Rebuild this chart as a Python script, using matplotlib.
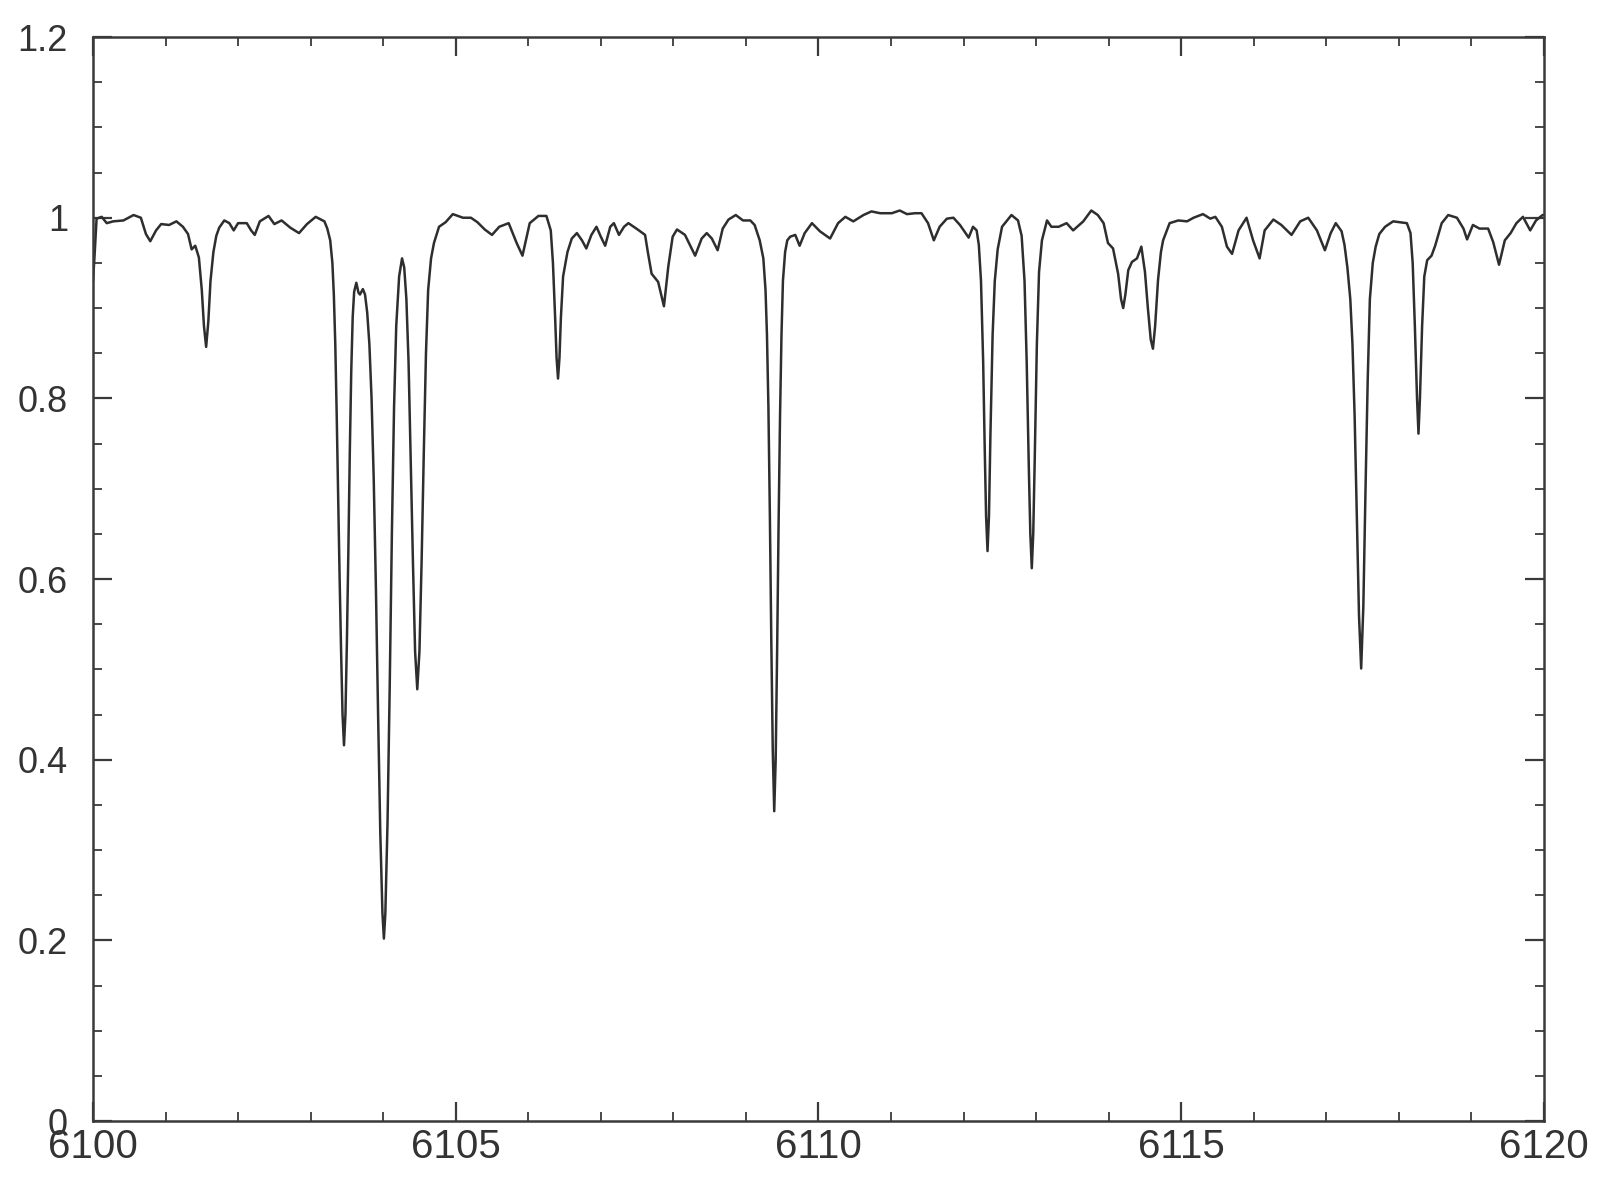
import matplotlib
matplotlib.use('Agg')
import matplotlib.pyplot as plt
from matplotlib.ticker import MultipleLocator, FormatStrFormatter, FuncFormatter

# spectrum (wavelength in Angstrom, normalised flux)
wave = [
    6100.00, 6100.02, 6100.05, 6100.12, 6100.19, 6100.28, 6100.42, 6100.56, 6100.66, 6100.73,
    6100.79, 6100.87, 6100.94, 6101.05, 6101.15, 6101.24, 6101.31, 6101.36, 6101.41, 6101.46,
    6101.50, 6101.53, 6101.56, 6101.59, 6101.62, 6101.66, 6101.70, 6101.74, 6101.81, 6101.88,
    6101.94, 6102.00, 6102.12, 6102.18, 6102.23, 6102.30, 6102.42, 6102.50, 6102.60, 6102.72,
    6102.84, 6102.95, 6103.07, 6103.19, 6103.23, 6103.27, 6103.30, 6103.32, 6103.34, 6103.36,
    6103.38, 6103.40, 6103.42, 6103.44, 6103.46, 6103.48, 6103.50, 6103.52, 6103.54, 6103.56,
    6103.58, 6103.60, 6103.63, 6103.66, 6103.68, 6103.72, 6103.75, 6103.78, 6103.81, 6103.84,
    6103.87, 6103.90, 6103.93, 6103.96, 6103.99, 6104.01, 6104.03, 6104.06, 6104.09, 6104.12,
    6104.15, 6104.18, 6104.22, 6104.26, 6104.29, 6104.32, 6104.35, 6104.38, 6104.41, 6104.44,
    6104.47, 6104.50, 6104.53, 6104.56, 6104.59, 6104.62, 6104.66, 6104.70, 6104.77, 6104.86,
    6104.96, 6105.10, 6105.21, 6105.30, 6105.40, 6105.50, 6105.60, 6105.73, 6105.84, 6105.92,
    6106.02, 6106.14, 6106.25, 6106.31, 6106.34, 6106.37, 6106.39, 6106.41, 6106.43, 6106.45,
    6106.48, 6106.54, 6106.60, 6106.67, 6106.74, 6106.80, 6106.87, 6106.94, 6107.00, 6107.06,
    6107.13, 6107.18, 6107.25, 6107.32, 6107.38, 6107.49, 6107.61, 6107.65, 6107.70, 6107.79,
    6107.87, 6107.93, 6107.99, 6108.05, 6108.16, 6108.30, 6108.39, 6108.46, 6108.53, 6108.61,
    6108.68, 6108.76, 6108.86, 6108.96, 6109.06, 6109.12, 6109.19, 6109.24, 6109.27, 6109.29,
    6109.31, 6109.33, 6109.35, 6109.37, 6109.39, 6109.41, 6109.43, 6109.45, 6109.47, 6109.49,
    6109.51, 6109.54, 6109.57, 6109.61, 6109.68, 6109.74, 6109.81, 6109.91, 6110.02, 6110.16,
    6110.27, 6110.37, 6110.48, 6110.62, 6110.73, 6110.85, 6111.01, 6111.12, 6111.22, 6111.33,
    6111.42, 6111.51, 6111.59, 6111.67, 6111.77, 6111.86, 6111.95, 6112.07, 6112.13, 6112.18,
    6112.21, 6112.24, 6112.27, 6112.29, 6112.31, 6112.33, 6112.35, 6112.37, 6112.40, 6112.43,
    6112.47, 6112.53, 6112.66, 6112.75, 6112.80, 6112.84, 6112.87, 6112.90, 6112.92, 6112.94,
    6112.96, 6112.98, 6113.01, 6113.04, 6113.08, 6113.15, 6113.21, 6113.31, 6113.42, 6113.51,
    6113.65, 6113.76, 6113.85, 6113.93, 6113.99, 6114.06, 6114.13, 6114.17, 6114.20, 6114.23,
    6114.27, 6114.32, 6114.39, 6114.45, 6114.50, 6114.54, 6114.58, 6114.61, 6114.64, 6114.68,
    6114.72, 6114.75, 6114.84, 6114.96, 6115.08, 6115.17, 6115.30, 6115.40, 6115.47, 6115.56,
    6115.63, 6115.70, 6115.79, 6115.90, 6115.99, 6116.08, 6116.15, 6116.27, 6116.38, 6116.52,
    6116.64, 6116.75, 6116.87, 6116.98, 6117.06, 6117.13, 6117.21, 6117.25, 6117.29, 6117.33,
    6117.36, 6117.39, 6117.42, 6117.45, 6117.48, 6117.51, 6117.54, 6117.57, 6117.60, 6117.64,
    6117.68, 6117.73, 6117.81, 6117.92, 6118.11, 6118.16, 6118.19, 6118.22, 6118.25, 6118.27,
    6118.29, 6118.32, 6118.35, 6118.39, 6118.45, 6118.50, 6118.59, 6118.68, 6118.80, 6118.89,
    6118.94, 6119.02, 6119.11, 6119.23, 6119.30, 6119.38, 6119.46, 6119.54, 6119.62, 6119.71,
    6119.81, 6119.89, 6119.98, 6120.00,
]
flux = [
    0.930, 0.955, 0.999, 1.001, 0.994, 0.996, 0.997, 1.003, 1.000, 0.982,
    0.974, 0.986, 0.993, 0.992, 0.996, 0.990, 0.982, 0.965, 0.969, 0.956,
    0.920, 0.880, 0.857, 0.885, 0.930, 0.962, 0.980, 0.989, 0.997, 0.994,
    0.986, 0.994, 0.994, 0.986, 0.981, 0.996, 1.002, 0.993, 0.997, 0.989,
    0.983, 0.993, 1.001, 0.996, 0.988, 0.975, 0.950, 0.915, 0.860, 0.780,
    0.690, 0.600, 0.520, 0.450, 0.416, 0.450, 0.530, 0.630, 0.740, 0.830,
    0.890, 0.918, 0.928, 0.917, 0.915, 0.921, 0.915, 0.895, 0.860, 0.800,
    0.710, 0.590, 0.450, 0.320, 0.230, 0.202, 0.230, 0.330, 0.480, 0.650,
    0.790, 0.880, 0.935, 0.955, 0.945, 0.910, 0.840, 0.730, 0.620, 0.520,
    0.478, 0.520, 0.620, 0.740, 0.850, 0.920, 0.955, 0.972, 0.990, 0.995,
    1.004, 1.000, 1.000, 0.995, 0.987, 0.981, 0.990, 0.994, 0.972, 0.958,
    0.994, 1.002, 1.002, 0.986, 0.950, 0.890, 0.845, 0.822, 0.845, 0.890,
    0.935, 0.962, 0.977, 0.983, 0.975, 0.966, 0.981, 0.990, 0.979, 0.969,
    0.990, 0.994, 0.981, 0.990, 0.994, 0.988, 0.981, 0.961, 0.938, 0.929,
    0.902, 0.946, 0.979, 0.987, 0.981, 0.958, 0.977, 0.983, 0.977, 0.964,
    0.988, 0.998, 1.003, 0.997, 0.997, 0.992, 0.975, 0.955, 0.920, 0.870,
    0.790, 0.670, 0.530, 0.410, 0.343, 0.400, 0.520, 0.660, 0.780, 0.870,
    0.930, 0.962, 0.975, 0.979, 0.981, 0.969, 0.983, 0.994, 0.985, 0.977,
    0.994, 1.001, 0.996, 1.003, 1.007, 1.005, 1.005, 1.008, 1.004, 1.005,
    1.005, 0.994, 0.975, 0.990, 0.999, 1.000, 0.992, 0.978, 0.990, 0.986,
    0.970, 0.930, 0.840, 0.750, 0.670, 0.631, 0.670, 0.760, 0.870, 0.930,
    0.965, 0.990, 1.003, 0.997, 0.980, 0.930, 0.840, 0.720, 0.650, 0.612,
    0.650, 0.730, 0.860, 0.940, 0.975, 0.997, 0.990, 0.990, 0.994, 0.986,
    0.996, 1.008, 1.003, 0.994, 0.972, 0.966, 0.938, 0.910, 0.900, 0.915,
    0.942, 0.951, 0.955, 0.968, 0.940, 0.900, 0.865, 0.855, 0.880, 0.931,
    0.962, 0.975, 0.994, 0.997, 0.996, 1.000, 1.004, 0.999, 1.001, 0.990,
    0.968, 0.960, 0.986, 1.000, 0.975, 0.955, 0.986, 0.998, 0.992, 0.981,
    0.996, 1.000, 0.986, 0.964, 0.983, 0.994, 0.985, 0.970, 0.945, 0.910,
    0.860, 0.780, 0.670, 0.560, 0.501, 0.570, 0.700, 0.820, 0.910, 0.950,
    0.968, 0.982, 0.990, 0.996, 0.994, 0.983, 0.950, 0.880, 0.800, 0.761,
    0.800, 0.880, 0.935, 0.953, 0.958, 0.969, 0.994, 1.003, 1.000, 0.988,
    0.976, 0.992, 0.988, 0.988, 0.973, 0.948, 0.975, 0.983, 0.994, 1.001,
    0.986, 0.997, 1.003, 1.003,
]
assert len(wave) == len(flux)

xlim = (6100, 6120)
ylim = (0, 1.2)

fig = plt.figure(figsize=(16, 12), dpi=100)
ax = fig.add_axes([0.0581, 0.0658, 0.9069, 0.9033])

ax.plot(wave, flux, color='#2e2e2e', lw=1.8, solid_joinstyle='round')

ax.set_xlim(*xlim)
ax.set_ylim(*ylim)

ax.xaxis.set_major_locator(MultipleLocator(5))
ax.xaxis.set_minor_locator(MultipleLocator(1))
ax.yaxis.set_major_locator(MultipleLocator(0.2))
ax.yaxis.set_minor_locator(MultipleLocator(0.05))
ax.xaxis.set_major_formatter(FormatStrFormatter('%d'))
ax.yaxis.set_major_formatter(FuncFormatter(lambda v, p: '%g' % round(v, 2)))

for s in ax.spines.values():
    s.set_linewidth(1.8)
    s.set_color('#3a3a3a')

ax.tick_params(which='both', direction='in', top=True, right=True,
               color='#3a3a3a', labelcolor='#333333')
ax.tick_params(which='major', length=14, width=1.6)
ax.tick_params(which='minor', length=6.5, width=1.3)
ax.tick_params(axis='y', which='major', pad=18, labelsize=26)
ax.tick_params(axis='x', which='major', pad=5, labelsize=29)
for lab in ax.get_xticklabels() + ax.get_yticklabels():
    lab.set_family('Liberation Sans')

fig.savefig('out.png', dpi=100)
